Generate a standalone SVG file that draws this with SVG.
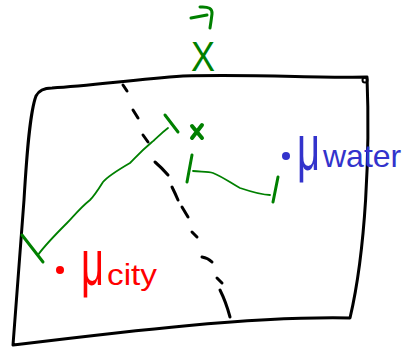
<svg xmlns="http://www.w3.org/2000/svg" width="407" height="348" viewBox="0 0 407 348">
<style>
.ink{fill:none;stroke-linecap:round;stroke-linejoin:round}
.blk{stroke:#000;stroke-width:3}
.grn{stroke:#008000}
.lbl{font-family:"Liberation Sans",Arial,sans-serif}
</style>
<rect width="407" height="348" fill="#fff"/>
<g id="frame">
<path class="ink blk" d="M36,96 Q40,88 52,88 C90,86 130,80 183,76 C250,74 320,78 367,77 C370,150 366,250 350,318 C250,316 120,332 13,345 C16,300 20,250 24,200 C27,150 30,112 36,96 Z"/>
<circle cx="365" cy="80" r="2.5" class="ink blk" style="stroke-width:2"/>
</g>
<g id="boundary">
<path class="ink blk" style="stroke-width:3" d="M123,85 L127,91 M133,110 L138,118 M143,135 L148,142 M155,162 Q162,168 168,175 M172,187 Q175,193 178,200 M182,207 L188,217 M192,232 L197,237 M202,257 Q208,258 212,262 M217,278 L222,283 M220,290 Q226,302 230,317"/>
</g>
<g id="x-vector">
<text class="lbl" x="191" y="71" font-size="42" fill="#008000" textLength="24" lengthAdjust="spacingAndGlyphs">X</text>
<path class="ink grn" style="stroke-width:3" d="M191,18 L207,15 M200,7 Q213,6 212,14 Q211,22 210,28"/>
</g>
<g id="optimum">
<path class="ink grn" style="stroke-width:4" d="M192,126 L202,138 M202,125 L192,138"/>
</g>
<g id="mu-water">
<circle cx="286" cy="156" r="4" fill="#3333cc"/>
<text class="lbl" transform="translate(297,170) scale(1,1.6)" font-size="40" fill="#3333cc">μ</text>
<text class="lbl" x="323" y="167" font-size="32" fill="#3333cc">water</text>
</g>
<g id="mu-city">
<circle cx="60" cy="270" r="4" fill="#ff0000"/>
<text class="lbl" transform="translate(81,285) scale(1,1.6)" font-size="40" fill="#ff0000">μ</text>
<text class="lbl" x="107" y="285" font-size="30" fill="#ff0000" textLength="50" lengthAdjust="spacingAndGlyphs">city</text>
</g>
<g id="connectors">
<path class="ink grn" style="stroke-width:1.8" d="M168,128 C160,134 155,140 152,142 C140,152 135,158 130,163 C118,170 108,176 103,182 C98,190 94,196 90,200 C80,208 72,218 67,223 C55,235 45,245 38,255"/>
<path class="ink grn" style="stroke-width:3" d="M165,115 L178,132 M22,235 L43,262"/>
<path class="ink grn" style="stroke-width:1.8" d="M193,171 C200,172 208,171 213,173 C225,178 232,184 240,188 C252,192 262,195 270,195"/>
<path class="ink grn" style="stroke-width:3" d="M192,155 L187,182 M278,177 L273,202"/>
</g>
</svg>
